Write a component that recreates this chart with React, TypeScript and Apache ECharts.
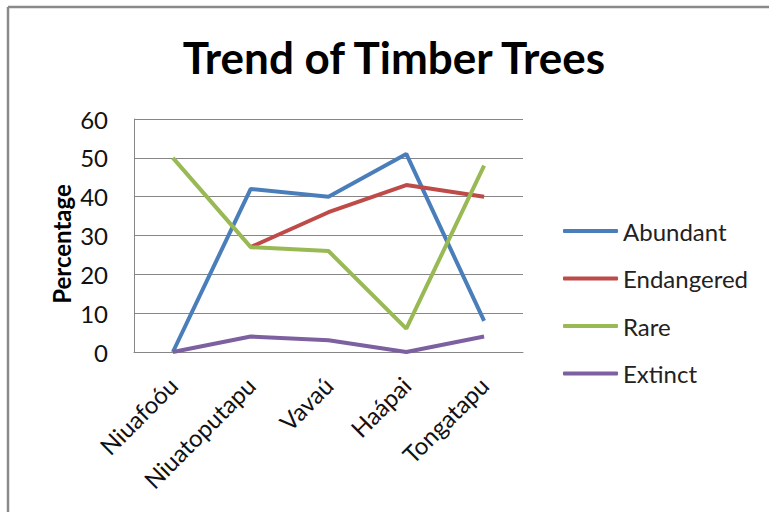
import React, { useEffect, useRef } from "react";
import * as echarts from "echarts";

const categories = ["Niuafoóu", "Niuatoputapu", "Vavaú", "Haápai", "Tongatapu"];
const abundant = [0, 42, 40, 51, 8];
const endangered: (number | null)[] = [null, 27, 36, 43, 40];
const rare = [50, 27, 26, 6, 48];
const extinct = [0, 4, 3, 0, 4];
const seriesNames = ["Abundant", "Endangered", "Rare", "Extinct"];
const colors = ["#4A7EBB", "#BE4B48", "#98B954", "#7D60A0"];

const FONT = "Lato";

export default function App() {
  const ref = useRef<HTMLDivElement>(null);
  useEffect(() => {
    if (!ref.current) return;
    const chart = echarts.init(ref.current, null, { renderer: "svg" });
    const data = [abundant, endangered, rare, extinct];
    chart.setOption({
      animation: false,
      backgroundColor: "#ffffff",
      title: {
        text: "Trend of Timber Trees",
        left: 389,
        top: 30,
        textAlign: "center",
        textStyle: { fontFamily: FONT, fontSize: 44, fontWeight: "bold", color: "#000" },
      },
      grid: { left: 134, right: 246, top: 119, bottom: 160, containLabel: false },
      legend: {
        orient: "vertical",
        left: 563,
        top: 219,
        padding: 0,
        itemWidth: 55,
        itemHeight: 4,
        itemGap: 23.5,
        icon: "roundRect",
        textStyle: { fontFamily: FONT, fontSize: 24, color: "#222" },
        data: seriesNames,
      },
      xAxis: {
        type: "category",
        data: categories,
        boundaryGap: true,
        axisLine: { lineStyle: { color: "#868686", width: 1 } },
        axisTick: { show: false },
        axisLabel: {
          rotate: 45,
          margin: 29,
          fontFamily: FONT,
          fontSize: 24,
          color: "#111",
          interval: 0,
        },
      },
      yAxis: {
        type: "value",
        min: 0,
        max: 60,
        interval: 10,
        axisLine: { show: true, lineStyle: { color: "#868686", width: 1 } },
        axisTick: { show: false },
        splitLine: { lineStyle: { color: "#868686", width: 1 } },
        axisLabel: { margin: 26, fontFamily: FONT, fontSize: 24, color: "#111" },
      },
      graphic: [
        {
          type: "line",
          shape: { x1: 8, y1: 7, x2: 769, y2: 7 },
          style: { stroke: "#8a8a8a", lineWidth: 2.5 },
        },
        {
          type: "line",
          shape: { x1: 8, y1: 7, x2: 8, y2: 512 },
          style: { stroke: "#8a8a8a", lineWidth: 2.5 },
        },
        {
          type: "text",
          x: 61,
          y: 244,
          rotation: Math.PI / 2,
          style: {
            text: "Percentage",
            fontFamily: FONT,
            fontSize: 24,
            fontWeight: "bold",
            fill: "#000",
            align: "center",
            verticalAlign: "middle",
          },
        },
      ],
      series: seriesNames.map((name, i) => ({
        name,
        type: "line",
        data: data[i],
        symbol: "none",
        color: colors[i],
        lineStyle: { width: 4, color: colors[i] },
        z: 2 + (i === 3 ? 0 : i),
      })),
    });
    return () => chart.dispose();
  }, []);
  return (
    <div
      ref={ref}
      style={{ position: "fixed", left: 0, top: 0, width: 769, height: 512 }}
    />
  );
}
